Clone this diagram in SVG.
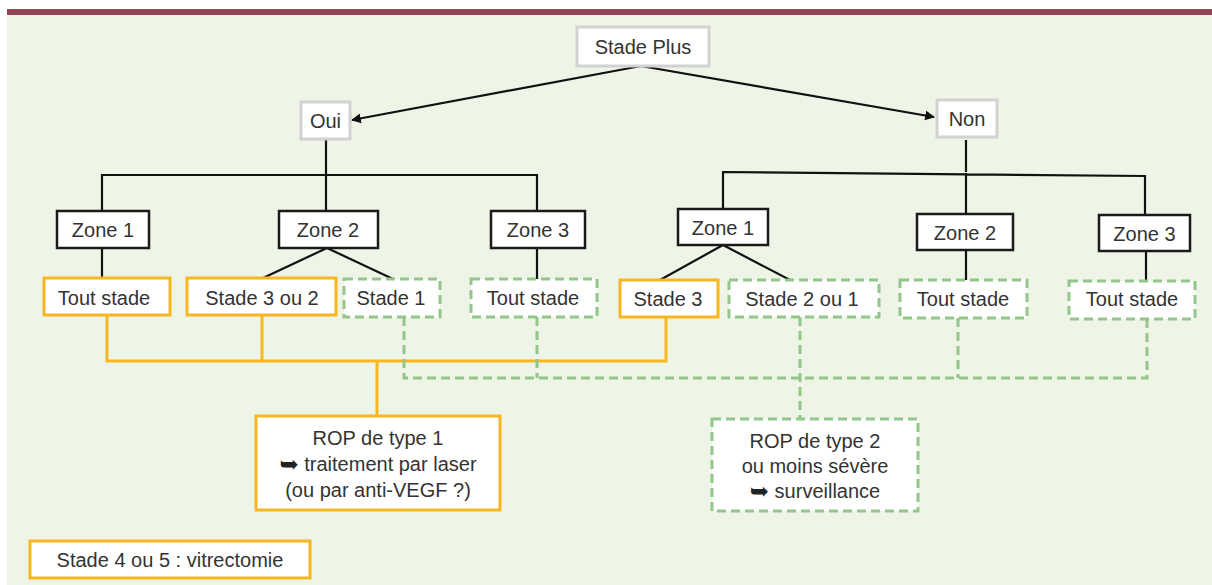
<svg xmlns="http://www.w3.org/2000/svg" width="1212" height="585" viewBox="0 0 1212 585">
<defs>
<style>
.t{font-family:"Liberation Sans",Arial,sans-serif;font-size:20px;fill:#333;text-anchor:middle;dominant-baseline:central}
.g{fill:#fff;stroke:#d2d2d2;stroke-width:3}
.k{fill:#fff;stroke:#1a1a1a;stroke-width:2.5}
.y{fill:#fff;stroke:#f8b621;stroke-width:3}
.d{fill:#fff;stroke:#92c68a;stroke-width:3;stroke-dasharray:9 5}
.lk{fill:none;stroke:#111;stroke-width:2.2}
.ly{fill:none;stroke:#f8b621;stroke-width:3}
.ld{fill:none;stroke:#92c68a;stroke-width:3;stroke-dasharray:9 5}
.ar{font-family:"DejaVu Sans",sans-serif;font-size:23px;fill:#222}
</style>
<marker id="ah" viewBox="0 0 10 10" refX="9" refY="5" markerWidth="4.5" markerHeight="4.5" orient="auto"><path d="M0,0 L10,5 L0,10 z" fill="#111"/></marker>
</defs>
<rect x="0" y="0" width="1212" height="585" fill="#fff"/>
<rect x="7" y="14" width="1205" height="571" fill="#eef5e7"/>
<rect x="7" y="9" width="1205" height="6" fill="#8e4452"/>

<g id="connectors">
<path class="lk" d="M641,66 L352,120" marker-end="url(#ah)"/>
<path class="lk" d="M641,66 L934,117" marker-end="url(#ah)"/>
<path class="lk" d="M326,140 V175 M102,212 V175 H537 V212 M326,175 V212"/>
<path class="lk" d="M966,140 V172 M723,209 V172 L1145,176 V215 M966,173 V214"/>
<path class="lk" d="M102,248 V278 M327,248 L263,278 M327,248 L393,279 M537,248 V279"/>
<path class="lk" d="M723,245 L660,280 M723,245 L790,280 M966,250 V280 M1146,251 V281"/>
<path class="ly" d="M107,315 V361 H666 V317 M262,315 V361 M377,361 V416"/>
<path class="ld" d="M404,317 V378 H1147 V319 M537,317 V378 M958,318 V378 M800,317 V419"/>
</g>

<g id="stade-plus"><rect class="g" x="577" y="27" width="132" height="39"/><text class="t" x="643" y="47">Stade Plus</text></g>
<g id="oui"><rect class="g" x="301" y="102" width="49" height="37"/><text class="t" x="325.5" y="121">Oui</text></g>
<g id="non"><rect class="g" x="937" y="100" width="60" height="37"/><text class="t" x="967" y="119">Non</text></g>

<g id="oui-zone1"><rect class="k" x="57" y="211" width="92" height="37"/><text class="t" x="103" y="230">Zone 1</text></g>
<g id="oui-zone2"><rect class="k" x="279" y="211" width="99" height="37"/><text class="t" x="328" y="230">Zone 2</text></g>
<g id="oui-zone3"><rect class="k" x="491" y="211" width="94" height="37"/><text class="t" x="538" y="230">Zone 3</text></g>
<g id="non-zone1"><rect class="k" x="678" y="209" width="90" height="36"/><text class="t" x="723" y="228">Zone 1</text></g>
<g id="non-zone2"><rect class="k" x="917" y="214" width="96" height="36"/><text class="t" x="965" y="233">Zone 2</text></g>
<g id="non-zone3"><rect class="k" x="1099" y="215" width="91" height="36"/><text class="t" x="1144.5" y="234">Zone 3</text></g>

<g id="oui-z1-tout"><rect class="y" x="44" y="278" width="126" height="37"/><text class="t" x="104" y="298">Tout stade</text></g>
<g id="oui-z2-s32"><rect class="y" x="187" y="278" width="149" height="37"/><text class="t" x="262" y="298">Stade 3 ou 2</text></g>
<g id="oui-z2-s1"><rect class="d" x="344" y="279" width="96" height="38"/><text class="t" x="391" y="298">Stade 1</text></g>
<g id="oui-z3-tout"><rect class="d" x="471" y="279" width="126" height="38"/><text class="t" x="533" y="298">Tout stade</text></g>
<g id="non-z1-s3"><rect class="y" x="620" y="280" width="98" height="37"/><text class="t" x="668" y="299">Stade 3</text></g>
<g id="non-z1-s21"><rect class="d" x="729" y="280" width="150" height="37"/><text class="t" x="802" y="299">Stade 2 ou 1</text></g>
<g id="non-z2-tout"><rect class="d" x="900" y="280" width="127" height="38"/><text class="t" x="963" y="299">Tout stade</text></g>
<g id="non-z3-tout"><rect class="d" x="1069" y="281" width="126" height="38"/><text class="t" x="1132" y="299">Tout stade</text></g>

<g id="rop1"><rect class="y" x="256" y="416" width="244" height="94"/>
<text class="t" x="378" y="438">ROP de type 1</text>
<text class="t" x="378" y="464"><tspan class="ar">➥</tspan> traitement par laser</text>
<text class="t" x="378" y="490">(ou par anti-VEGF ?)</text></g>
<g id="rop2"><rect class="d" x="712" y="419" width="206" height="92"/>
<text class="t" x="815" y="441">ROP de type 2</text>
<text class="t" x="815" y="466">ou moins sévère</text>
<text class="t" x="815" y="491"><tspan class="ar">➥</tspan> surveillance</text></g>
<g id="stade45"><rect class="y" x="30" y="541" width="280" height="37"/><text class="t" x="170" y="560">Stade 4 ou 5 : vitrectomie</text></g>
</svg>
